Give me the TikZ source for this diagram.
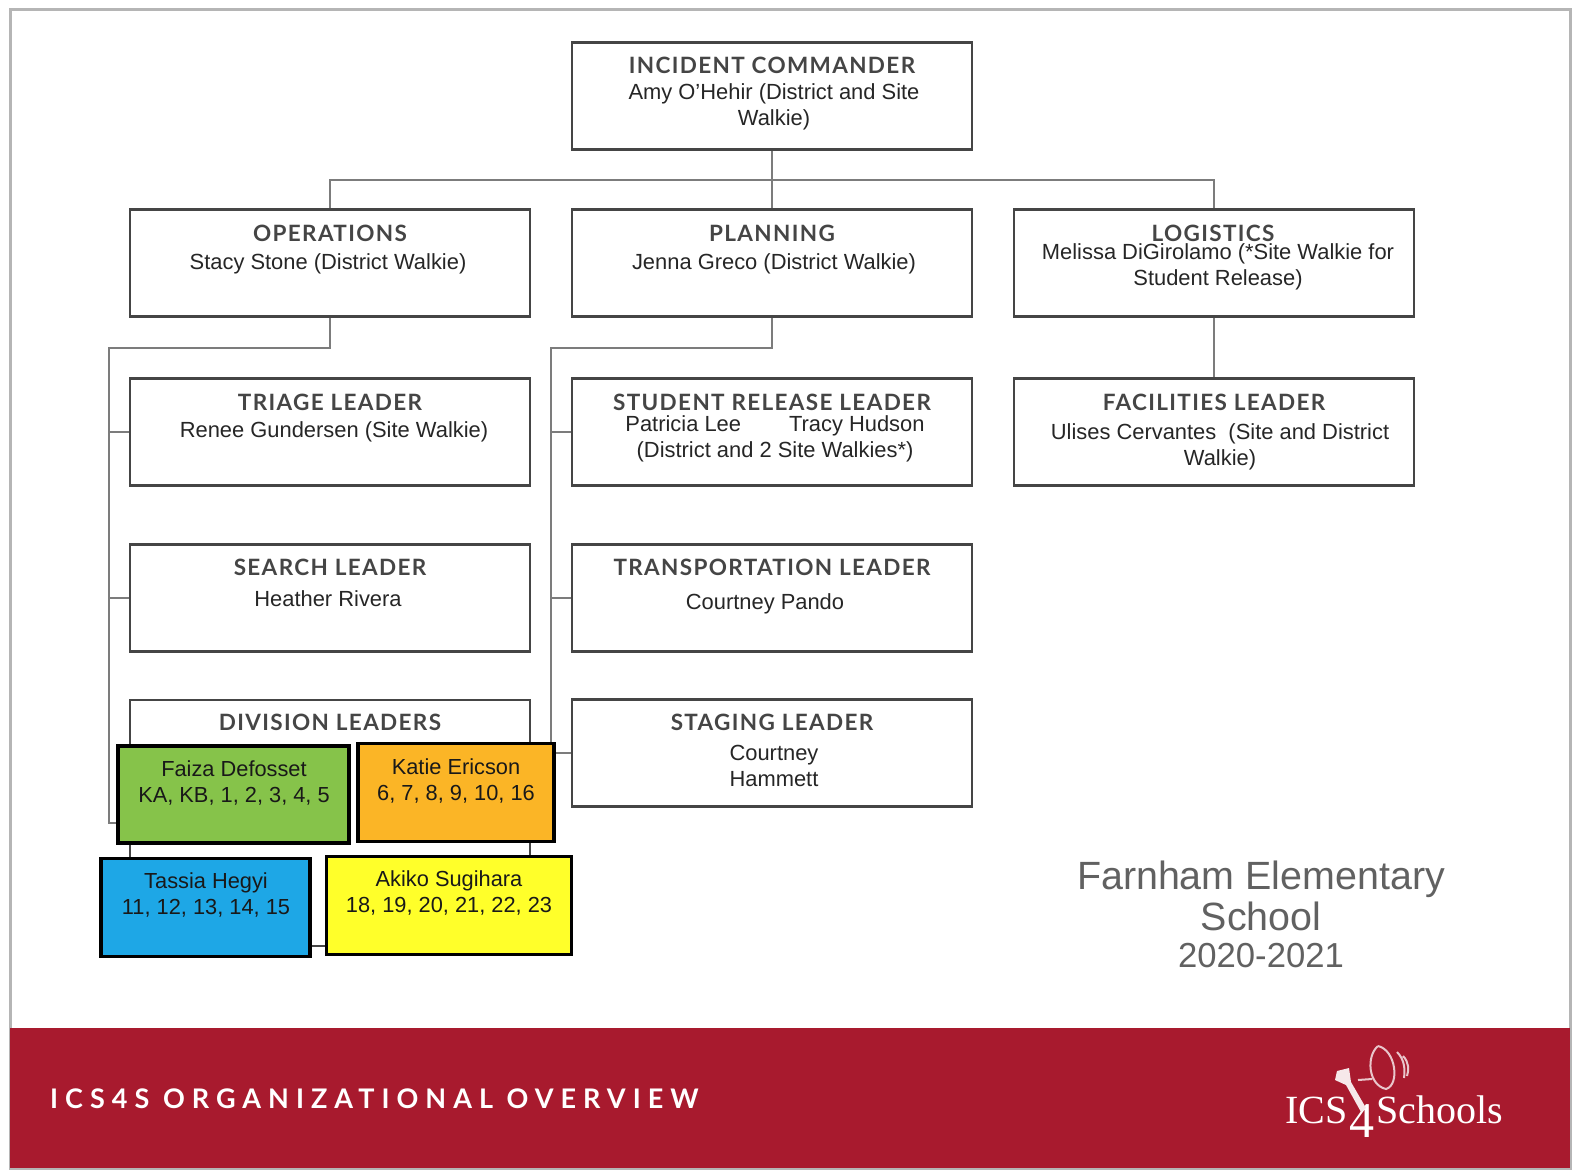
\documentclass[tikz,border=0pt]{standalone}
\usepackage{fontspec}
\usepackage{xcolor}
\setmainfont{Liberation Sans}
\newfontfamily\headfont[LetterSpace=6]{Lato}
\newfontfamily\bannerfont[LetterSpace=26]{Lato}
\newfontfamily\logofont{Liberation Serif}
\usetikzlibrary{positioning}

\definecolor{boxgray}{HTML}{454545}
\definecolor{linegray}{HTML}{7C7C7C}
\definecolor{framegray}{HTML}{B5B5B5}
\definecolor{bannerred}{HTML}{A81A2E}
\definecolor{facultygreen}{HTML}{86C34A}
\definecolor{facultyorange}{HTML}{FBB526}
\definecolor{facultyblue}{HTML}{1EA7E6}
\definecolor{facultyyellow}{HTML}{FFFF2A}

\tikzset{
    orgbox/.style={draw=boxgray, line width=2.8pt, fill=white, minimum width=400pt, minimum height=107pt, inner sep=0pt},
    teambox/.style={draw=black, line width=3.8pt, inner sep=0pt},
    headtext/.style={font=\fontsize{22.5}{26}\selectfont\headfont\bfseries, text=boxgray, inner sep=0pt},
    bodytext/.style={font=\fontsize{21.9}{26}\selectfont, text=black!85, align=center, inner sep=0pt},
    teamtext/.style={font=\fontsize{21.8}{26}\selectfont, text=black!90, align=center, inner sep=0pt},
    link/.style={draw=linegray, line width=2pt}
}

\begin{document}
\begin{tikzpicture}[x=1pt,y=-1pt]
    \useasboundingbox (0,0) rectangle (1572,1171);

    % page and banner
    \draw[draw=framegray, line width=3pt, fill=white] (10,9) rectangle (1570,1168);
    \fill[bannerred] (10,1028) rectangle (1570,1168);

    % boxes
    \node[orgbox] (commander) at (772,96) {};
    \node[orgbox] (operations) at (330,263) {};
    \node[orgbox] (planning) at (772,263) {};
    \node[orgbox] (logistics) at (1214,263) {};
    \node[orgbox] (triage) at (330,432) {};
    \node[orgbox] (release) at (772,432) {};
    \node[orgbox] (facilities) at (1214,432) {};
    \node[orgbox] (search) at (330,598) {};
    \node[orgbox] (transport) at (772,598) {};
    \node[orgbox, minimum height=246pt] (division) at (330,823) {};
    \node[orgbox] (staging) at (772,753) {};

    % connectors
    \coordinate (topbus) at (772,180);
    \coordinate (optrunk) at (109,348);
    \coordinate (plantrunk) at (551,348);
    \draw[link] (commander.south) -- (planning.north);
    \draw[link] (operations.north) |- (topbus) -| (logistics.north);
    \draw[link] (logistics.south) -- (facilities.north);
    \draw[link] (operations.south) |- (optrunk) |- (division.west);
    \draw[link] (optrunk) |- (triage.west);
    \draw[link] (optrunk) |- (search.west);
    \draw[link] (planning.south) |- (plantrunk) |- (staging.west);
    \draw[link] (plantrunk) |- (release.west);
    \draw[link] (plantrunk) |- (transport.west);

    % coloured boxes on top
    \node[teambox, fill=facultygreen, minimum width=231pt, minimum height=97pt] (faiza) at (233.5,794.5) {};
    \node[teambox, fill=facultyorange, minimum width=196pt, minimum height=98pt] (katie) at (456,792.5) {};
    \node[teambox, fill=facultyblue, minimum width=209pt, minimum height=98pt] (tassia) at (205.5,907.5) {};
    \node[teambox, fill=facultyyellow, minimum width=245pt, minimum height=98pt] (akiko) at (449,905.5) {};

    % texts
    \node[headtext] (commanderhead) at (772,65) {INCIDENT COMMANDER};
    \node[bodytext] (commandername) at (774,107) {Amy O'Hehir (District and Site\\Walkie)};
    \node[headtext] (operationshead) at (330,233) {OPERATIONS};
    \node[bodytext] (operationsname) at (328,264) {Stacy Stone (District Walkie)};
    \node[headtext] (planninghead) at (772,233) {PLANNING};
    \node[bodytext] (planningname) at (774,264) {Jenna Greco (District Walkie)};
    \node[headtext] (logisticshead) at (1213,233) {LOGISTICS};
    \node[bodytext] (logisticsname) at (1218,267) {Melissa DiGirolamo (*Site Walkie for\\Student Release)};
    \node[headtext] (triagehead) at (330,402) {TRIAGE LEADER};
    \node[bodytext] (triagename) at (334,432) {Renee Gundersen (Site Walkie)};
    \node[headtext] (releasehead) at (772,402) {STUDENT RELEASE LEADER};
    \node[bodytext] (releasename) at (775,439) {Patricia Lee\hspace{48pt}Tracy Hudson\\(District and 2 Site Walkies*)};
    \node[headtext] (facilitieshead) at (1214,402) {FACILITIES LEADER};
    \node[bodytext] (facilitiesname) at (1220,447) {Ulises Cervantes\ \ (Site and District\\Walkie)};
    \node[headtext] (searchhead) at (330,567) {SEARCH LEADER};
    \node[bodytext] (searchname) at (328,599) {Heather Rivera};
    \node[headtext] (transporthead) at (772,567) {TRANSPORTATION LEADER};
    \node[bodytext] (transportname) at (765,604) {Courtney Pando};
    \node[headtext] (divisionhead) at (330,722) {DIVISION LEADERS};
    \node[headtext] (staginghead) at (772,722) {STAGING LEADER};
    \node[bodytext] (stagingname) at (774,766) {Courtney\\Hammett};

    \node[teamtext] (faizaname) at (234,783) {Faiza Defosset\\KA, KB, 1, 2, 3, 4, 5};
    \node[teamtext] (katiename) at (456,781) {Katie Ericson\\6, 7, 8, 9, 10, 16};
    \node[teamtext] (tassianame) at (206,895) {Tassia Hegyi\\11, 12, 13, 14, 15};
    \node[teamtext] (akikoname) at (449,893) {Akiko Sugihara\\18, 19, 20, 21, 22, 23};

    \node[font=\fontsize{39.4}{41}\selectfont, text=black!62, align=center, inner sep=0pt] (schoolname) at (1261,896) {Farnham Elementary\\School};
    \node[font=\fontsize{34.7}{41}\selectfont, text=black!62, inner sep=0pt] (schoolyear) at (1261,956) {2020-2021};

    % banner text and logo
    \node[font=\fontsize{27}{30}\selectfont\bannerfont\bfseries, text=white, anchor=west, inner sep=0pt] (bannertitle) at (50,1099) {ICS4S ORGANIZATIONAL OVERVIEW};
    \node[font=\fontsize{40}{44}\selectfont\logofont, text=white, anchor=base west, inner sep=0pt] (logoics) at (1285,1123) {ICS};
    \node[font=\fontsize{50}{50}\selectfont\logofont, text=white, anchor=base, inner sep=0pt] (logofour) at (1362,1137) {4};
    \node[font=\fontsize{40}{44}\selectfont\logofont, text=white, anchor=base west, inner sep=0pt] (logoschools) at (1376,1123) {Schools};

    \fill[white!90!bannerred] (1337,1071) -- (1349,1068) -- (1351,1082) -- (1366,1108) -- (1361,1112) -- (1346,1085) -- (1335,1080) -- cycle;
    \draw[white!75!bannerred, line width=2pt] (1358,1080) -- (1372,1079) (1378,1046) .. controls (1366,1056) and (1368,1085) .. (1386,1089) .. controls (1400,1085) and (1396,1050) .. (1378,1046);
    \draw[white!75!bannerred, line width=2pt] (1397,1052) .. controls (1405,1060) and (1405,1070) .. (1404,1078) (1403,1056) .. controls (1409,1062) and (1409,1070) .. (1407,1076);
\end{tikzpicture}
\end{document}
